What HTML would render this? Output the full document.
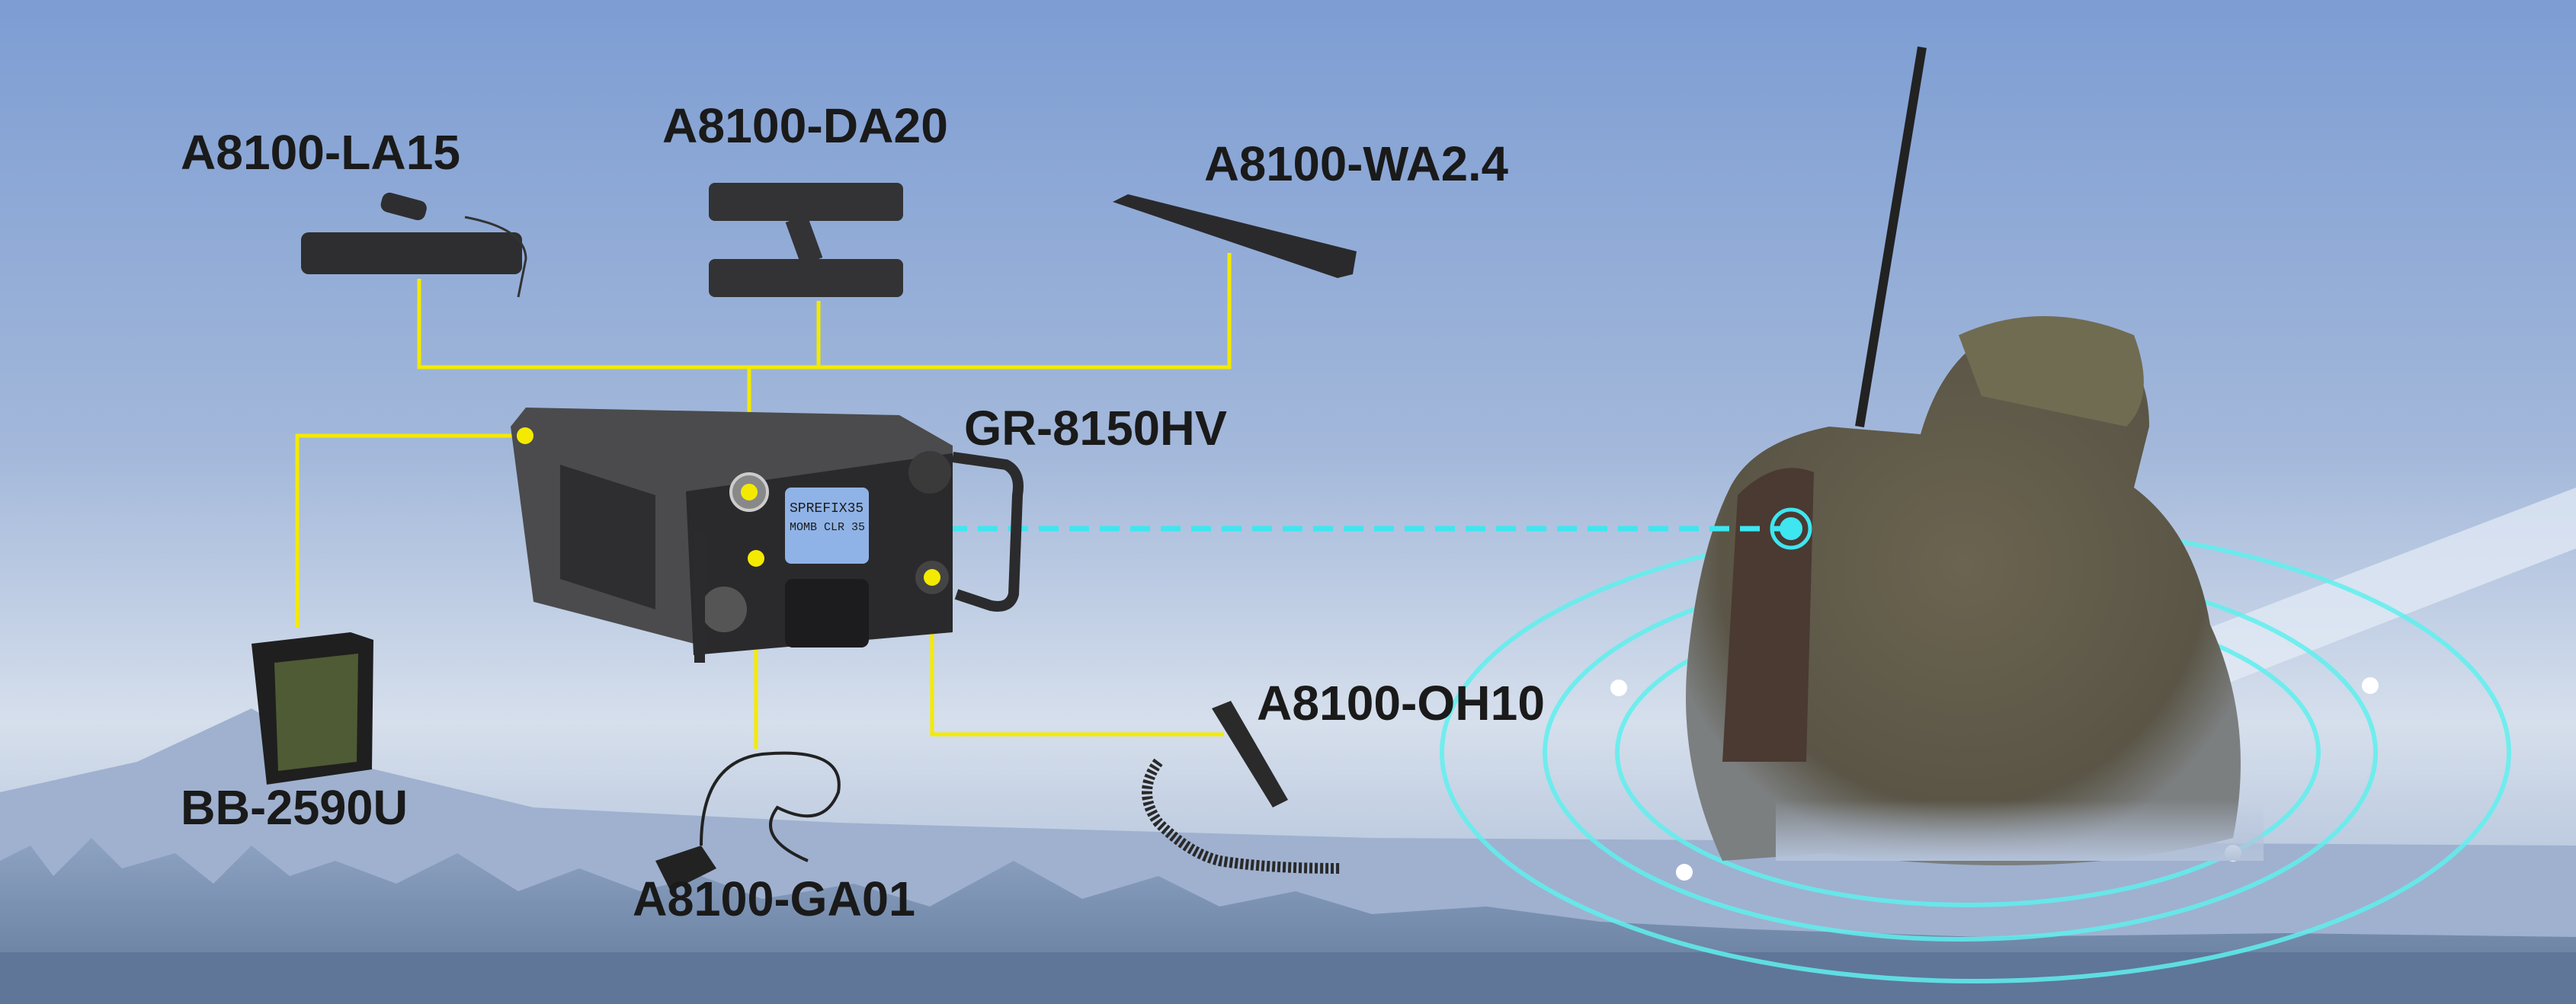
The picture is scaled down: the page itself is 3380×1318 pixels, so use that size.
<!DOCTYPE html>
<html><head><meta charset="utf-8"><style>
html,body{margin:0;padding:0;width:3380px;height:1318px;overflow:hidden}
svg{display:block}
text{font-family:"Liberation Sans",Arial,sans-serif;font-weight:bold;fill:#1a1a1a}
</style></head><body>
<svg width="3380" height="1318" viewBox="0 0 3380 1318" xmlns="http://www.w3.org/2000/svg">
<defs>
<linearGradient id="sky" x1="0" y1="0" x2="0" y2="1">
<stop offset="0" stop-color="#7d9dd3"/>
<stop offset="0.45" stop-color="#a3b8da"/>
<stop offset="0.72" stop-color="#d6dfec"/>
<stop offset="0.82" stop-color="#c2cfe2"/>
<stop offset="1" stop-color="#a8b8d0"/>
</linearGradient>
<linearGradient id="trees" x1="0" y1="0" x2="0" y2="1">
<stop offset="0" stop-color="#8ea3c2"/>
<stop offset="1" stop-color="#61789a"/>
</linearGradient>
<radialGradient id="sold" cx="0.5" cy="0.45" r="0.55">
<stop offset="0" stop-color="#6b6450"/>
<stop offset="0.8" stop-color="#5a5546"/>
<stop offset="1" stop-color="#7c7f80"/>
</radialGradient>
<linearGradient id="fade" x1="0" y1="0" x2="0" y2="1">
<stop offset="0" stop-color="#b9c6dc" stop-opacity="0"/>
<stop offset="1" stop-color="#b4c2d9" stop-opacity="1"/>
</linearGradient>
</defs>
<rect width="3380" height="1318" fill="url(#sky)"/>
<path d="M2700 900 L3380 640 L3380 720 L2760 960 Z" fill="#e6edf6" opacity="0.7"/>
<path d="M0 1040 L180 1000 L330 930 L450 1000 L700 1060 L1100 1080 L1800 1100 L3380 1110 L3380 1318 L0 1318 Z" fill="#9fb1cf"/>
<path d="M0 1318 L0 1130 L40 1110 L70 1150 L120 1100 L160 1140 L230 1120 L280 1160 L330 1110 L380 1150 L440 1130 L520 1160 L600 1120 L680 1170 L760 1140 L840 1170 L920 1150 L1000 1180 L1120 1160 L1220 1190 L1330 1130 L1420 1180 L1520 1150 L1600 1190 L1700 1170 L1800 1200 L1950 1190 L2100 1210 L2300 1220 L2600 1230 L3000 1225 L3380 1230 L3380 1318 Z" fill="url(#trees)"/>
<rect x="0" y="1250" width="3380" height="68" fill="#5f7698"/>

<g fill="none" stroke="#5ff0ee" stroke-width="6" opacity="0.85">
<ellipse cx="2592" cy="988" rx="700" ry="300"/>
<ellipse cx="2572" cy="988" rx="545" ry="245"/>
<ellipse cx="2582" cy="988" rx="460" ry="200"/>
</g>
<g fill="#ffffff"><circle cx="2124" cy="903" r="11"/><circle cx="3110" cy="900" r="11"/><circle cx="2210" cy="1145" r="11"/><circle cx="2930" cy="1120" r="11"/></g>

<line x1="2522" y1="62" x2="2440" y2="560" stroke="#222" stroke-width="12"/>
<path d="M2270 640 Q2300 580 2400 560 L2520 570 Q2560 430 2680 420 Q2820 430 2820 560 L2800 640 Q2880 700 2900 820 Q2960 950 2930 1100 Q2700 1160 2400 1120 L2260 1130 Q2200 1000 2215 860 Q2230 720 2270 640 Z" fill="url(#sold)"/>
<path d="M2570 440 Q2680 390 2800 440 Q2830 520 2790 560 L2600 520 Z" fill="#6f6c52"/>
<path d="M2280 650 Q2330 600 2380 620 L2370 1000 L2260 1000 Z" fill="#4a3a32"/>
<rect x="2330" y="1050" width="640" height="80" fill="url(#fade)"/>

<line x1="1123" y1="694" x2="2340" y2="694" stroke="#3ee6f0" stroke-width="7" stroke-dasharray="26 14"/>
<circle cx="2350" cy="694" r="25" fill="none" stroke="#3ee6f0" stroke-width="5"/>
<circle cx="2350" cy="694" r="15" fill="#3ee6f0"/>

<g stroke="#f4ea00" stroke-width="5" fill="none">
<polyline points="550,366 550,482 1613,482 1613,332"/>
<line x1="1074" y1="395" x2="1074" y2="482"/>
<line x1="983" y1="482" x2="983" y2="646"/>
<polyline points="390,824 390,572 689,572"/>
<line x1="992" y1="733" x2="992" y2="983"/>
<polyline points="1223,758 1223,964 1606,964"/>
</g>

<g>
<path d="M670 560 L690 535 L1180 545 L1250 585 L1250 830 L930 850 L700 790 Z" fill="#4b4b4d"/>
<path d="M735 610 L860 650 L860 800 L735 760 Z" fill="#2e2e30"/>
<path d="M900 645 L1250 595 L1250 830 L910 860 Z" fill="#2a2a2c"/>
<rect x="1030" y="640" width="110" height="100" rx="8" fill="#8fb3e6"/>
<text x="1036" y="672" font-size="18" style="font-family:'Liberation Mono',monospace;font-weight:normal" fill="#1a2b4a">SPREFIX35</text>
<text x="1036" y="696" font-size="15" style="font-family:'Liberation Mono',monospace;font-weight:normal" fill="#1a2b4a">MOMB CLR 35</text>
<rect x="1030" y="760" width="110" height="90" rx="10" fill="#1c1c1e"/>
<circle cx="983" cy="646" r="24" fill="#888" stroke="#ccc" stroke-width="4"/>
<circle cx="950" cy="800" r="30" fill="#555"/>
<circle cx="1220" cy="620" r="28" fill="#3a3a3a"/>
<circle cx="1223" cy="758" r="22" fill="#444"/>
<path d="M1250 600 L1320 610 Q1340 620 1335 650 L1330 780 Q1325 800 1300 795 L1255 780" fill="none" stroke="#2b2b2d" stroke-width="14"/>
<line x1="918" y1="700" x2="918" y2="870" stroke="#2b2b2d" stroke-width="14"/>
</g>
<g fill="#f4ea00"><circle cx="983" cy="646" r="11"/><circle cx="689" cy="572" r="11"/><circle cx="992" cy="733" r="11"/><circle cx="1223" cy="758" r="11"/></g>

<g fill="#2e2e30">
<rect x="395" y="305" width="290" height="55" rx="10"/>
<rect x="500" y="258" width="60" height="26" rx="10" transform="rotate(15 530 270)"/>
<path d="M610 285 Q690 300 690 340 L680 390" fill="none" stroke="#333" stroke-width="3"/>
</g>
<g fill="#333335">
<rect x="930" y="240" width="255" height="50" rx="8"/>
<rect x="930" y="340" width="255" height="50" rx="8"/>
<rect x="1040" y="285" width="30" height="60" transform="rotate(-20 1055 315)"/>
</g>
<path d="M1460 265 L1480 255 L1780 330 L1775 360 L1755 365 Z" fill="#2a2a2c"/>
<path d="M330 845 L460 830 L490 840 L488 1010 L350 1030 Z" fill="#1f1f1f"/>
<path d="M360 870 L470 858 L468 1000 L365 1012 Z" fill="#4e5b34"/>
<path d="M860 1130 L920 1110 L940 1140 L880 1170 Z" fill="#222"/>
<path d="M920 1110 Q920 1000 1000 990 Q1110 980 1100 1040 Q1080 1090 1020 1060 Q990 1100 1060 1130" fill="none" stroke="#222" stroke-width="4"/>
<path d="M1590 930 L1615 920 L1690 1050 L1670 1060 Z" fill="#2a2a2a"/>
<path d="M1520 1000 Q1490 1040 1520 1080 Q1560 1120 1600 1130 Q1660 1140 1760 1140" fill="none" stroke="#2a2a2a" stroke-width="14" stroke-dasharray="4 3"/>

<text x="237" y="222" font-size="64" textLength="367" lengthAdjust="spacingAndGlyphs">A8100-LA15</text>
<text x="869" y="187" font-size="64" textLength="375" lengthAdjust="spacingAndGlyphs">A8100-DA20</text>
<text x="1580" y="237" font-size="64" textLength="399" lengthAdjust="spacingAndGlyphs">A8100-WA2.4</text>
<text x="1265" y="584" font-size="64" textLength="345" lengthAdjust="spacingAndGlyphs">GR-8150HV</text>
<text x="237" y="1082" font-size="64" textLength="298" lengthAdjust="spacingAndGlyphs">BB-2590U</text>
<text x="830" y="1202" font-size="64" textLength="371" lengthAdjust="spacingAndGlyphs">A8100-GA01</text>
<text x="1649" y="945" font-size="64" textLength="378" lengthAdjust="spacingAndGlyphs">A8100-OH10</text>
</svg>
</body></html>
